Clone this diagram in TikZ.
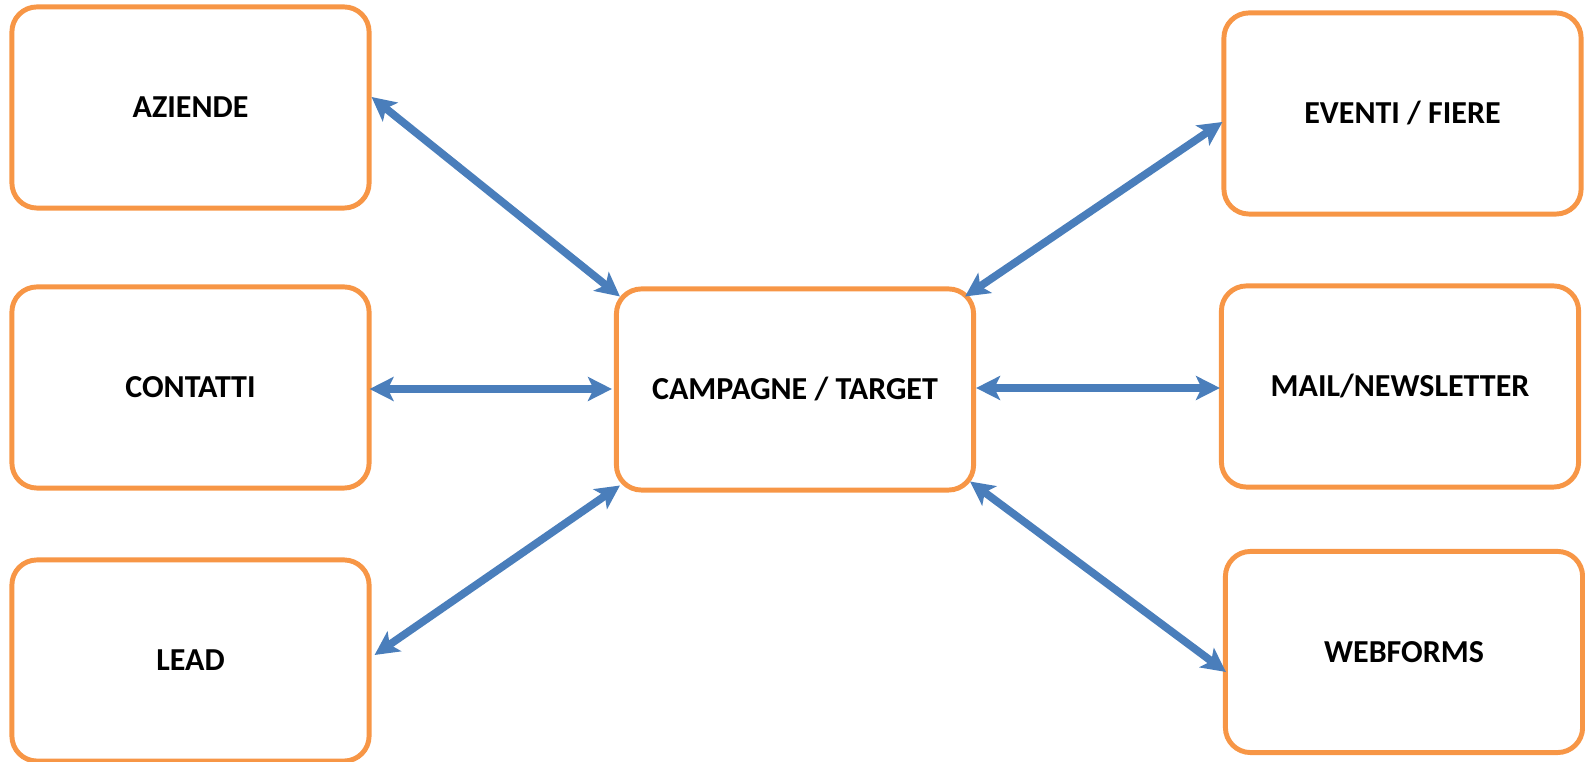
\documentclass[tikz,border=0pt]{standalone}
\usepackage{fontspec}
\setmainfont{Carlito}
\usetikzlibrary{arrows.meta}

\definecolor{boxorange}{HTML}{F79646}
\definecolor{linkblue}{HTML}{4A7EBB}

\begin{document}
\begin{tikzpicture}[x=0.01cm,y=-0.01cm,
    box/.style={draw=boxorange, line width=1.4pt, rounded corners=0.25cm,
        minimum width=3.57cm, minimum height=2.01cm, fill=white,
        font=\fontsize{9.1pt}{10pt}\selectfont\bfseries},
    link/.style={draw=linkblue, line width=2.2pt,
        {Stealth[length=6.8pt,width=6.8pt,inset=1.6pt]}-{Stealth[length=6.8pt,width=6.8pt,inset=1.6pt]}}]
    \useasboundingbox (0,0) rectangle (1585,762);

    \node[box] (aziende)  at (190.5,107.5) {AZIENDE};
    \node[box] (contatti) at (190.5,387.5) {CONTATTI};
    \node[box] (lead)     at (190.5,660.5) {LEAD};
    \node[box] (campagne) at (795,389.5)   {CAMPAGNE / TARGET};
    \node[box] (eventi)   at (1402.5,113.5) {EVENTI / FIERE};
    \node[box] (mail)     at (1400,386.5)  {MAIL/NEWSLETTER};
    \node[box] (webforms) at (1404,652)    {WEBFORMS};

    \draw[link] ([shift={(0,-10.5)}]aziende.east) -- ([shift={(6,10)}]campagne.north west);
    \draw[link] ([shift={(-2,1.5)}]contatti.east) -- ([shift={(-2,1.5)}]contatti.east -| campagne.west);
    \draw[link] ([shift={(3,-5.5)}]lead.east) -- ([shift={(6,-7)}]campagne.south west);
    \draw[link] ([shift={(1,8.5)}]eventi.west) -- ([shift={(-11,10)}]campagne.north east);
    \draw[link] ([shift={(0,1.5)}]campagne.east |- mail.west) -- ([shift={(1,1.5)}]mail.west);
    \draw[link] ([shift={(-6,-11)}]campagne.south east) -- ([shift={(3,20)}]webforms.west);
\end{tikzpicture}
\end{document}
